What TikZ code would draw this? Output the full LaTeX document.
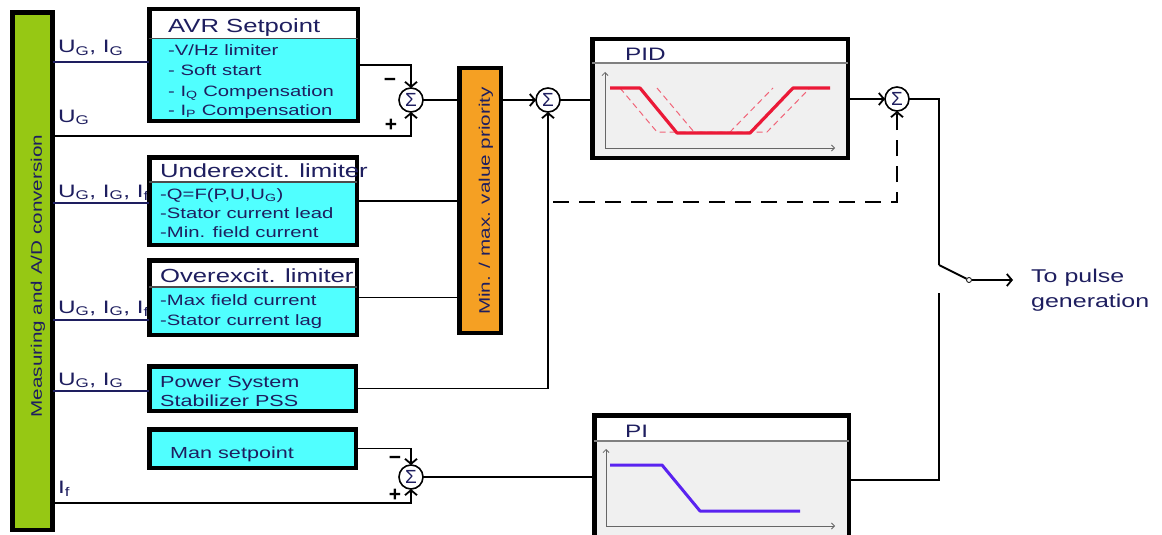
\documentclass[tikz,border=0pt]{standalone}
\usepackage{fontspec}
\setmainfont{Liberation Sans}[FakeStretch=1.35]
\newfontfamily\plainsans{Liberation Sans}
\usetikzlibrary{arrows.meta,calc}
\definecolor{navy}{RGB}{30,30,95}
\definecolor{barg}{RGB}{150,200,20}
\definecolor{cyanb}{RGB}{80,255,255}
\definecolor{orng}{RGB}{245,160,35}
\definecolor{grayf}{RGB}{240,240,240}
\definecolor{redc}{RGB}{235,25,55}
\definecolor{redd}{RGB}{240,100,120}
\definecolor{bluec}{RGB}{90,35,240}
\begin{document}
\begin{tikzpicture}[x=1pt,y=-1pt,
  blk/.style={rectangle,draw=black,line width=4.5pt,inner sep=0pt,outer sep=0pt},
  divl/.style={line width=1.2pt,draw=black!70},
  conn/.style={draw=black,line width=1.8pt},
  inp/.style={draw=navy,line width=2pt},
  arr/.style={-{Straight Barb[length=5pt,width=12pt]}},
  axisl/.style={draw=black!60,line width=0.8pt,-{Straight Barb[length=3pt,width=6pt]}},
  sumn/.style={circle,draw=black,line width=1.6pt,fill=white,minimum size=24pt,inner sep=0pt,outer sep=0pt,font=\plainsans\fontsize{19}{19}\selectfont,text=navy},
  sgn/.style={inner sep=0pt,font=\plainsans\bfseries\fontsize{21}{21}\selectfont},
  body/.style={anchor=base west,inner sep=0pt,text=navy,font=\fontsize{15}{18}\selectfont},
  bodyl/.style={anchor=base west,inner sep=0pt,text=navy,font=\fontsize{16}{19}\selectfont},
  ttl/.style={anchor=base west,inner sep=0pt,text=navy,font=\fontsize{19}{22}\selectfont},
  lbl/.style={anchor=base west,inner sep=0pt,text=navy,font=\fontsize{18}{20}\selectfont}
]
\useasboundingbox (0,0) rectangle (1162,535);
\clip (0,0) rectangle (1162,535);

% coordinates for line ends
\coordinate (in1) at (52.5,62);
\coordinate (ug) at (52.5,136);
\coordinate (in2) at (52.5,203);
\coordinate (in3) at (52.5,320);
\coordinate (in4) at (52.5,391);
\coordinate (ifc) at (52.5,503);
\coordinate (dstart) at (553,202);
\coordinate (sw1) at (939,265);
\coordinate (sw2) at (939,293);
\coordinate (tgt) at (1013,280);

% labels on the input lines
\node[lbl] (l1) at (58,53) {U\textsubscript{G}, I\textsubscript{G}};
\node[lbl] (l2) at (58,122) {U\textsubscript{G}};
\node[lbl] (l3) at (58,197) {U\textsubscript{G}, I\textsubscript{G}, I\textsubscript{f}};
\node[lbl] (l4) at (58,313) {U\textsubscript{G}, I\textsubscript{G}, I\textsubscript{f}};
\node[lbl] (l5) at (58,385) {U\textsubscript{G}, I\textsubscript{G}};
\node[lbl] (l6) at (58,493) {I\textsubscript{f}};

% measuring bar
\node[blk,fill=barg,minimum width=40pt,minimum height=517.5pt] (meas) at (32.5,271.25) {};
\node[rotate=90,text=navy,font=\fontsize{15.3}{18}\selectfont] (meast) at (38,276) {Measuring and A/D conversion};

% boxes
\node[blk,fill=cyanb,minimum width=208.5pt,minimum height=111.5pt] (avr) at (253.5,65) {};
\fill[white] ([shift={(2.25,2.25)}]avr.north west) rectangle ($(avr.north east)+(-2.25,29)$);
\draw[divl] ($(avr.north west)+(0,29)$) -- ($(avr.north east)+(0,29)$);

\node[blk,fill=cyanb,minimum width=207.5pt,minimum height=87.5pt] (under) at (253,201) {};
\fill[white] ([shift={(2.25,2.25)}]under.north west) rectangle ($(under.north east)+(-2.25,24.75)$);
\draw[divl] ($(under.north west)+(0,24.75)$) -- ($(under.north east)+(0,24.75)$);

\node[blk,fill=cyanb,minimum width=207.5pt,minimum height=74.5pt] (over) at (253,297.5) {};
\fill[white] ([shift={(2.25,2.25)}]over.north west) rectangle ($(over.north east)+(-2.25,26.75)$);
\draw[divl] ($(over.north west)+(0,26.75)$) -- ($(over.north east)+(0,26.75)$);

\node[blk,fill=cyanb,minimum width=206.5pt,minimum height=44.5pt] (pss) at (252.5,388.5) {};
\node[blk,fill=cyanb,minimum width=206.5pt,minimum height=38.5pt] (man) at (252.5,448.5) {};

\node[blk,fill=orng,minimum width=41.5pt,minimum height=264.5pt] (mm) at (480,200.5) {};
\node[rotate=90,text=navy,font=\fontsize{15.3}{18}\selectfont] (mmt) at (486,201) {Min. / max. value priority};

\node[blk,fill=grayf,minimum width=255.5pt,minimum height=118.5pt] (pid) at (720,98.5) {};
\fill[white] ([shift={(2.25,2.25)}]pid.north west) rectangle ($(pid.north east)+(-2.25,23.75)$);
\draw[divl,draw=black!50] ($(pid.north west)+(0,23.75)$) -- ($(pid.north east)+(0,23.75)$);

\node[blk,fill=grayf,minimum width=254.5pt,minimum height=129.75pt] (pi) at (721.5,480.125) {};
\fill[white] ([shift={(2.25,2.25)}]pi.north west) rectangle ($(pi.north east)+(-2.25,25.75)$);
\draw[divl,draw=black!50] ($(pi.north west)+(0,25.75)$) -- ($(pi.north east)+(0,25.75)$);

% box texts
\node[ttl] (avrt) at (168,33) {AVR Setpoint};
\node[body] (avr1) at (168,56) {-V/Hz limiter};
\node[body] (avr2) at (168,76) {- Soft start};
\node[body] (avr3) at (168,96) {- I\textsubscript{Q} Compensation};
\node[body] (avr4) at (168,115) {- I\textsubscript{P} Compensation};

\node[ttl] (undt) at (160,177) {Underexcit. limiter};
\node[body] (und1) at (160,199) {-Q=F(P,U,U\textsubscript{G})};
\node[body] (und2) at (160,218) {-Stator current lead};
\node[body] (und3) at (160,237) {-Min. field current};

\node[ttl] (ovt) at (160,282) {Overexcit. limiter};
\node[body] (ov1) at (160,305) {-Max field current};
\node[body] (ov2) at (160,325) {-Stator current lag};

\node[bodyl] (pss1) at (160,387) {Power System};
\node[bodyl] (pss2) at (160,406) {Stabilizer PSS};
\node[bodyl] (mant) at (170,458) {Man setpoint};

\node[ttl,font=\fontsize{18}{20}\selectfont] (pidt) at (625,60) {PID};
\node[ttl,font=\fontsize{18}{20}\selectfont] (pit) at (625,437) {PI};

% PID graph
\draw[axisl] (605,148) -- (605,72);
\draw[axisl] (605,148) -- (835,148);
\draw[redd,line width=1pt,dash pattern=on 6pt off 4pt] (620,88) -- (657,132) -- (730,132) -- (773,88);
\draw[redd,line width=1pt,dash pattern=on 6pt off 4pt] (657,88) -- (694,132) -- (767,132) -- (810,88);
\draw[redc,line width=3.2pt,line join=round] (610,88) -- (640,88) -- (677,133) -- (750,133) -- (793,88) -- (830,88);

% PI graph
\draw[axisl] (606,526) -- (606,449);
\draw[axisl] (606,526) -- (835,526);
\draw[bluec,line width=3pt,line join=round] (610,465) -- (662,465) -- (700,511) -- (800,511);

% sums
\node[sumn] (s1) at (411,100) {Σ};
\node[sumn] (s2) at (548,100) {Σ};
\node[sumn] (s3) at (897,99) {Σ};
\node[sumn] (s4) at (411,477) {Σ};
\node[sgn] (m1) at (390,82) {−};
\node[sgn] (p1) at (391,125) {+};
\node[sgn] (m4) at (395,460) {−};
\node[sgn] (p4) at (395,495) {+};

% input lines
\draw[inp] (in1) -- (avr.west |- in1);
\draw[inp] (in2) -- (under.west |- in2);
\draw[inp] (in3) -- (over.west |- in3);
\draw[inp] (in4) -- (pss.west |- in4);

% connectors
\draw[conn,arr] (avr.east) -| (s1.north);
\draw[conn,arr] (ug) -| (s1.south);
\draw[conn] (s1.east) -- (mm.west |- s1.east);
\draw[conn,arr] (mm.east |- s2.west) -- (s2.west);
\draw[conn] (s2.east) -- (pid.west |- s2.east);
\draw[conn,arr] (pid.east |- s3.west) -- (s3.west);
\draw[conn] (under.east) -- (mm.west |- under.east);
\draw[conn] (over.east) -- (mm.west |- over.east);
\draw[conn,arr] (pss.east) -| (s2.south);
\draw[conn,dash pattern=on 16pt off 10pt,arr] (dstart) -| (s3.south);
\draw[conn] (s3.east) -| (sw1);
\node[circle,draw=black,line width=0.8pt,fill=white,minimum size=5pt,inner sep=0pt] (swc) at (969,280) {};
\draw[conn] (sw1) -- (swc);
\draw[conn,arr] (swc) -- (tgt);
\draw[conn] (pi.east) -| (sw2);
\draw[conn] (s4.east) -- (pi.west |- s4.east);
\draw[conn,arr] (man.east) -| (s4.north);
\draw[conn,arr] (ifc) -| (s4.south);

\node[anchor=base west,inner sep=0pt,text=navy,font=\fontsize{18.5}{22}\selectfont] (tp1) at (1031,282) {To pulse};
\node[anchor=base west,inner sep=0pt,text=navy,font=\fontsize{18.5}{22}\selectfont] (tp2) at (1031,307) {generation};
\end{tikzpicture}
\end{document}
